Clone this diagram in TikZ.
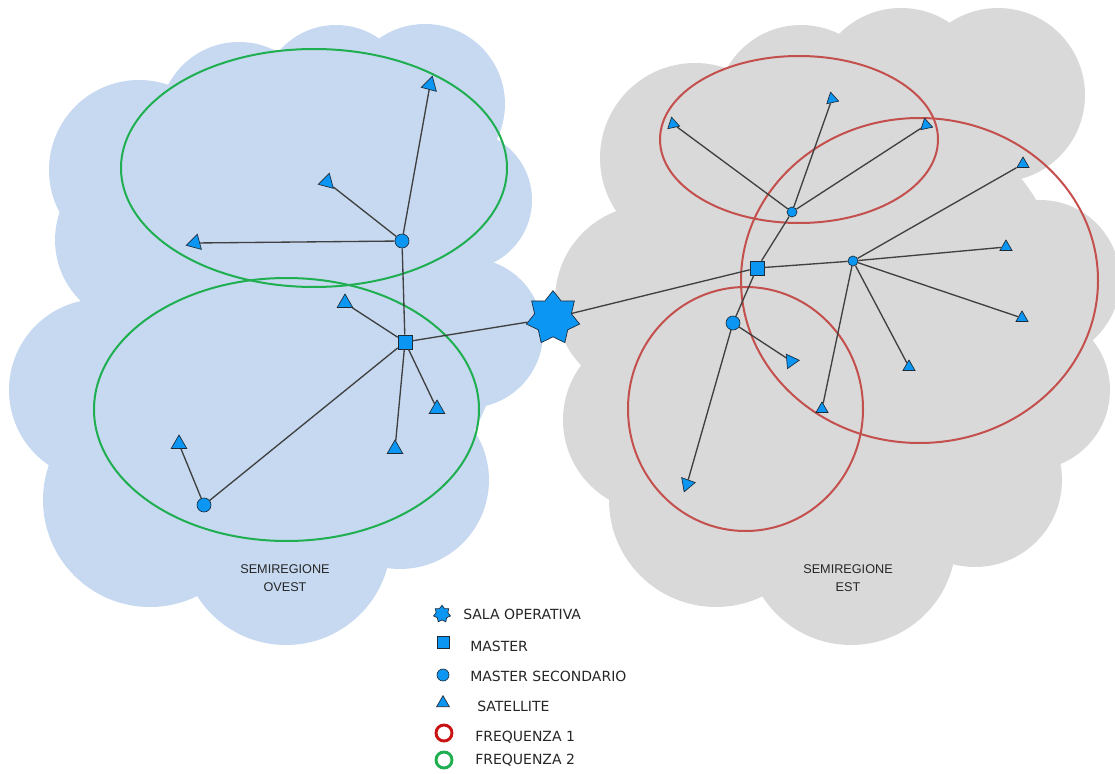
\documentclass[tikz,border=0pt]{standalone}
\usepackage{fontspec}
\setsansfont{Liberation Sans}
\newfontfamily\legfont{DejaVu Sans}
\usetikzlibrary{shapes.geometric}
\definecolor{ovest}{HTML}{C6D9F1}
\definecolor{est}{HTML}{D9D9D9}
\definecolor{dev}{HTML}{0A96F2}
\definecolor{devline}{HTML}{1E2A36}
\definecolor{fqa}{HTML}{C4504E}
\definecolor{fqb}{HTML}{1FAF50}
\definecolor{fqaleg}{HTML}{C81414}
\definecolor{wire}{HTML}{404040}
\tikzset{
  unit/.style={draw=devline, fill=dev, line width=0.5pt, inner sep=0pt},
  sala/.style={unit, star, star points=7, star point ratio=1.45, minimum size=41pt},
  mst/.style={unit, rectangle, minimum size=10.5pt},
  sec/.style={unit, circle, minimum size=10.5pt},
  secs/.style={unit, circle, minimum size=7.5pt},
  sat/.style={unit, regular polygon, regular polygon sides=3, minimum size=13.5pt},
  sats/.style={sat, minimum size=10.5pt},
  link/.style={draw=wire, line width=1pt},
  ring/.style={line width=1.5pt},
  zone/.style={font=\sffamily\fontsize{9.5}{13.5}\selectfont, text=black!85, align=center},
  leg/.style={font=\legfont\fontsize{10.5}{12}\selectfont, text=black!85, anchor=west, inner sep=0pt},
}
\newcommand{\puffs}[2]{\foreach \x/\y/\r in {#2} {\fill[#1] (\x,\y) circle (\r);}}

\begin{document}
\begin{tikzpicture}[x=0.75pt,y=-0.75pt]
  \useasboundingbox (0,0) rectangle (1115,774);
  % clouds
  \puffs{ovest}{290/330/210, 139/170/90, 140/240/85, 239/122/80, 336/100/75, 425/104/80, 462/200/70, 468/333/75, 400/480/89, 286/540/105, 150/500/107, 100/390/91}
  \puffs{est}{840/320/230, 695/158/95, 801/110/85, 901/95/87, 998/95/87, 1040/280/80, 1030/390/80, 975/480/87, 851/540/105, 716/500/107, 655/420/92, 650/300/95}
  % frequency areas
  \draw[ring, fqb] (314,168) ellipse [x radius=193, y radius=119];
  \draw[ring, fqb] (286.5,409.5) ellipse [x radius=192.5, y radius=131.5];
  \draw[ring, fqa] (799,139.5) ellipse [x radius=139, y radius=83.5];
  \draw[ring, fqa] (919.5,280.5) ellipse [x radius=178.5, y radius=162.5];
  \draw[ring, fqa] (745.5,409) ellipse [x radius=117.5, y radius=122];
  % devices
  \node[sala] (sala) at (553,318) {};
  \node[mst] (sW) at (405,342) {};
  \node[sec] (cW1) at (402,241) {};
  \node[sec] (cW2) at (204,505) {};
  \node[sat, rotate=-15] (tW1) at (430,85) {};
  \node[sat, rotate=-15] (tW2) at (327,182) {};
  \node[sat, rotate=-15] (tW3) at (195,243) {};
  \node[sat] (tW4) at (345,303) {};
  \node[sat] (tW5) at (395,449) {};
  \node[sat] (tW6) at (437,409) {};
  \node[sat] (tW7) at (179,444) {};
  \node[mst] (sE) at (757,268) {};
  \node[secs] (cE1) at (792,212) {};
  \node[secs] (cE2) at (853,261) {};
  \node[sec] (cE3) at (733,323) {};
  \node[sats, rotate=12] (tE1) at (673,124) {};
  \node[sats, rotate=12] (tE2) at (832,99) {};
  \node[sats, rotate=12] (tE3) at (926,125) {};
  \node[sats] (tE4) at (1023,164) {};
  \node[sats] (tE5) at (1006,247) {};
  \node[sats] (tE6) at (1022,318) {};
  \node[sats] (tE7) at (909,367) {};
  \node[sats] (tE8) at (822,409) {};
  \node[sat, minimum size=12.5pt, rotate=-85] (tE9) at (791,361) {};
  \node[sat, minimum size=12.5pt, rotate=-80] (tE10) at (687,484) {};
  % links
  \foreach \a/\b in {sala/sW, sala/sE, sW/cW1, sW/cW2, sW/tW4, sW/tW5, sW/tW6, cW1/tW1, cW1/tW2, cW1/tW3, cW2/tW7,
                     sE/cE1, sE/cE2, sE/cE3, cE1/tE1, cE1/tE2, cE1/tE3, cE2/tE4, cE2/tE5, cE2/tE6, cE2/tE7, cE2/tE8, cE3/tE9, cE3/tE10}
    \draw[link] (\a) -- (\b);
  % region names
  \node[zone] (zW) at (285,578) {SEMIREGIONE\\OVEST};
  \node[zone] (zE) at (848,578) {SEMIREGIONE\\EST};
  % legend
  \node[sala, minimum size=13pt] (lgSala) at (442,614) {};
  \node[mst, minimum size=9pt] (lgMst) at (443,642) {};
  \node[sec, minimum size=9pt] (lgSec) at (443,675) {};
  \node[sat, minimum size=11pt] (lgSat) at (443,703) {};
  \node[circle, draw=fqaleg, line width=2.2pt, minimum size=12pt] (lgF1) at (444,733) {};
  \node[circle, draw=fqb, line width=2.2pt, minimum size=12pt] (lgF2) at (444,760) {};
  \node[leg] (txSala) at (463,614) {SALA OPERATIVA};
  \node[leg] (txMst) at (470,646) {MASTER};
  \node[leg] (txSec) at (470,676) {MASTER SECONDARIO};
  \node[leg] (txSat) at (477,706) {SATELLITE};
  \node[leg] (txF1) at (475,737) {FREQUENZA 1};
  \node[leg] (txF2) at (475,760) {FREQUENZA 2};
\end{tikzpicture}
\end{document}
